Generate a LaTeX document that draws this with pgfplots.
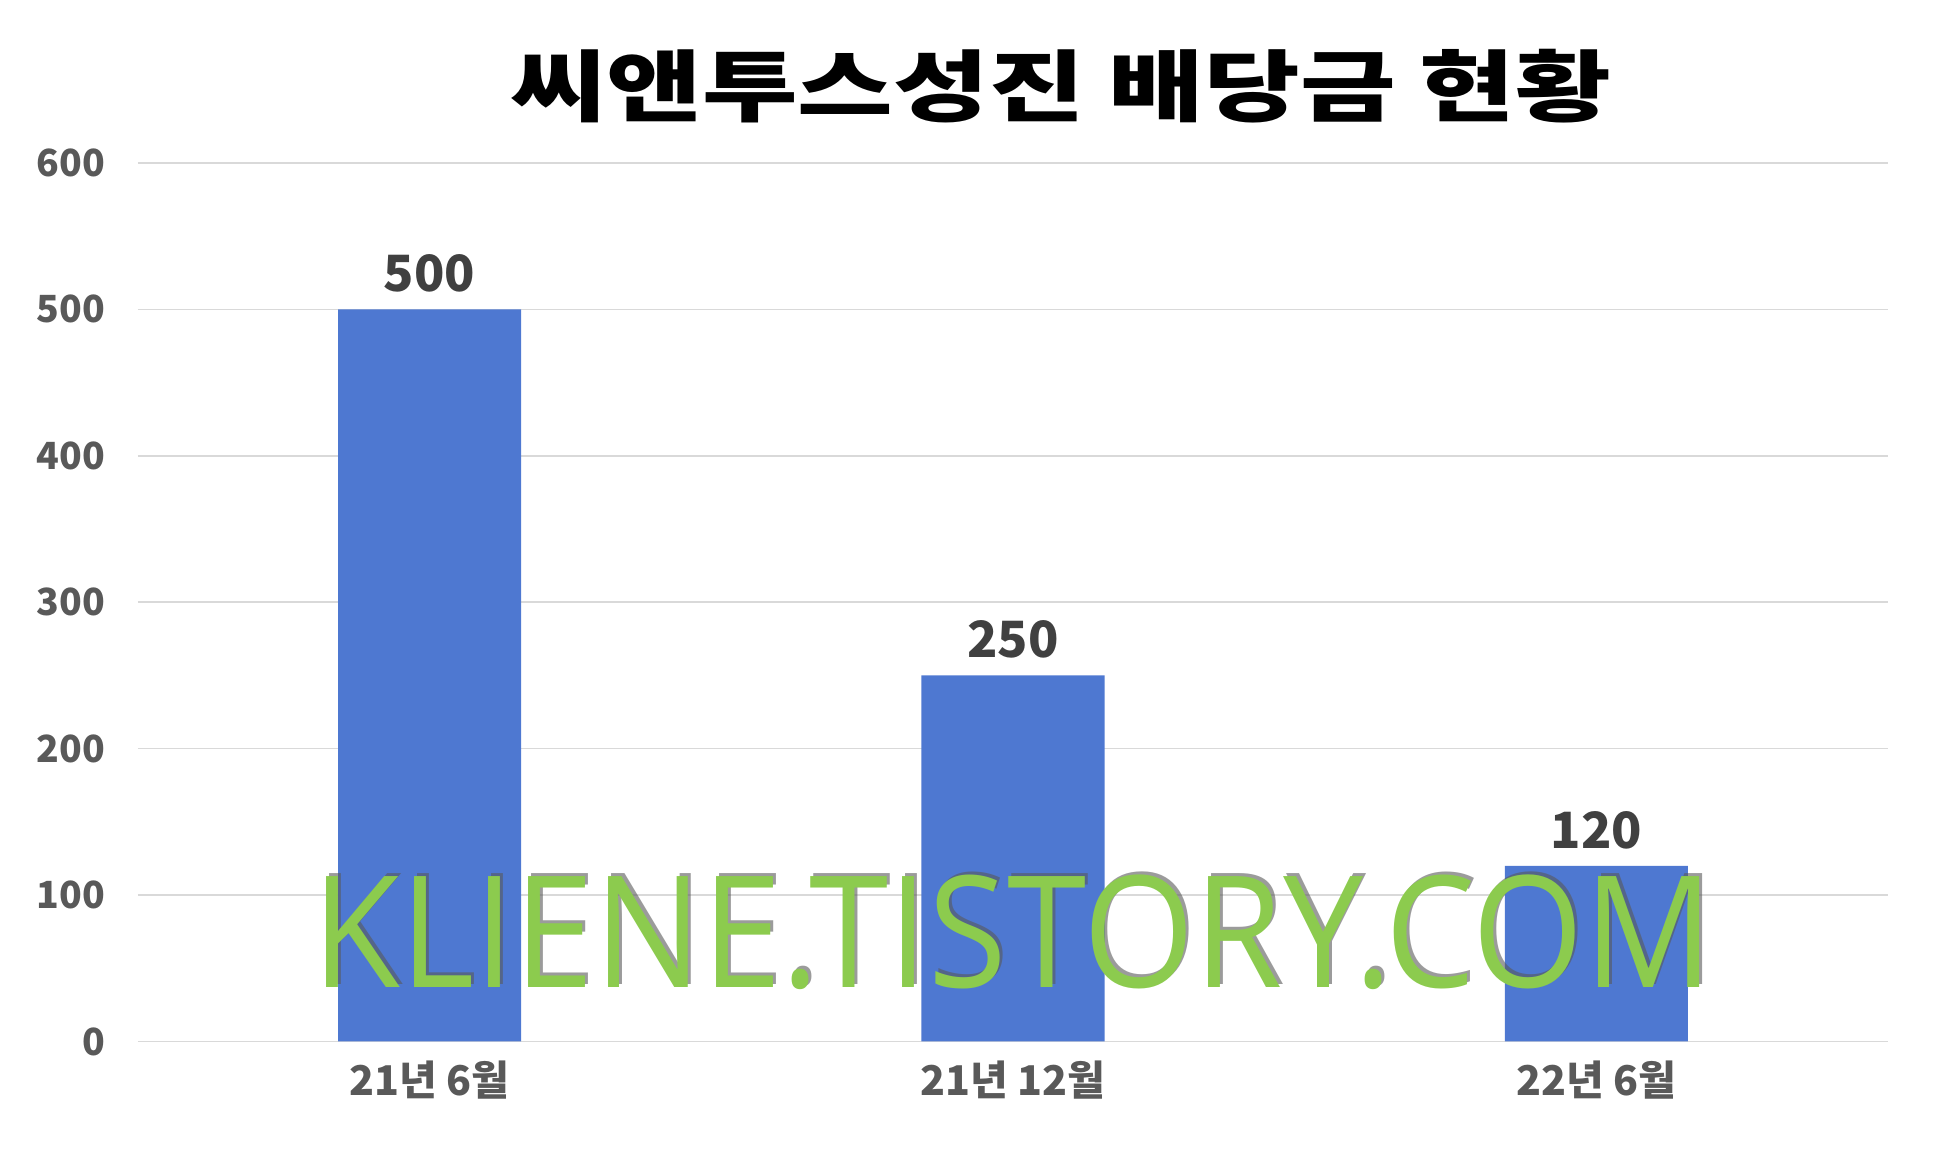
\documentclass[border=0pt]{standalone}
\usepackage{fontspec}
\usepackage{pgfplots}
\pgfplotsset{compat=1.18}
\newfontfamily\kr{Noto Sans CJK KR}
\newfontfamily\krblack{Noto Sans CJK KR Black}
\newfontfamily\wm{Open Sans}
\definecolor{barblue}{HTML}{4E78D1}
\definecolor{gridgray}{HTML}{D9D9D9}
\definecolor{ticktext}{HTML}{595959}
\definecolor{labtext}{HTML}{404040}
\definecolor{wmgreen}{HTML}{8CCB4E}

\begin{document}
\begin{tikzpicture}
\useasboundingbox (-69pt,-62.75pt) rectangle (898.5pt,520.75pt);
\begin{axis}[
    scale only axis,
    width=875pt, height=439.25pt,
    xmin=-0.5, xmax=2.5,
    ymin=0, ymax=600,
    ytick={0,100,...,600},
    xtick={0,1,2},
    xticklabels={21년 6월, 21년 12월, 22년 6월},
    axis line style={draw=none},
    ymajorgrids=true,
    grid style={gridgray, line width=0.8pt},
    major tick length=0pt,
    /pgf/number format/assume math mode=true,
    tick label style={text=ticktext},
    yticklabel style={font=\kr\bfseries\fontsize{18.7}{18.7}\selectfont, anchor=east, xshift=-13pt},
    xticklabel style={font=\kr\bfseries\fontsize{20.5}{20.5}\selectfont, anchor=north, yshift=-6pt},
    ybar, bar width=0.314,
    nodes near coords,
    every node near coord/.append style={font=\kr\bfseries\fontsize{25}{25}\selectfont, text=labtext, yshift=5pt},
]
\addplot[fill=barblue, draw=none] coordinates {(0,500) (1,250) (2,120)};
\end{axis}
\node[text=gray!70!black, opacity=0.6] at (439pt,56pt) {\scalebox{0.92}[1]{\wm\fontsize{77.7}{77.7}\selectfont KLIENE.TISTORY.COM}};
\node[text=wmgreen] at (437.5pt,54.75pt) {\scalebox{0.92}[1]{\wm\fontsize{77.7}{77.7}\selectfont KLIENE.TISTORY.COM}};
\node at (461.5pt,477.5pt) {\scalebox{1}[0.75]{\krblack\fontsize{52}{52}\selectfont 씨앤투스성진 배당금 현황}};
\end{tikzpicture}
\end{document}
